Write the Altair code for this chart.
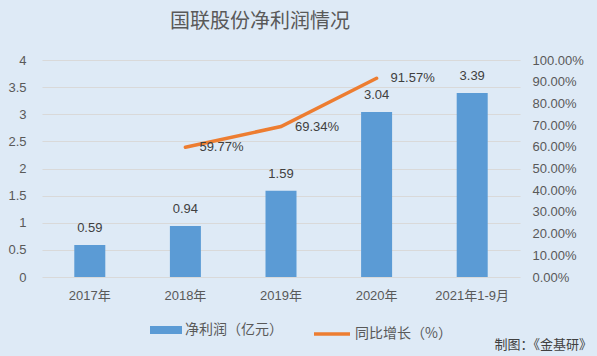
import altair as alt
import pandas as pd

years = ["2017年", "2018年", "2019年", "2020年", "2021年1-9月"]
profit = [0.59, 0.94, 1.59, 3.04, 3.39]
growth_years = ["2018年", "2019年", "2020年"]
growth = [0.5977, 0.6934, 0.9157]
growth_labels = ["59.77%", "69.34%", "91.57%"]
left_ticks = [0, 0.5, 1, 1.5, 2, 2.5, 3, 3.5, 4]
right_ticks = [0, 0.1, 0.2, 0.3, 0.4, 0.5, 0.6, 0.7, 0.8, 0.9, 1.0]

FONT = "Liberation Sans, Noto Sans CJK SC"
CJK = "Noto Sans CJK SC"
TXT = "#595959"
BLUE = "#5B9BD5"
ORANGE = "#ED7D31"
BG = "#DEEAF6"

bars_df = pd.DataFrame({"year": years, "profit": profit, "series": "净利润（亿元）"})
line_df = pd.DataFrame({"year": growth_years, "growth": growth, "label": growth_labels,
                        "series": "同比增长（%）"})

xaxis = alt.Axis(labelAngle=0, ticks=False, domain=False, grid=False,
                 labelPadding=12, labelFontSize=13, labelColor=TXT, labelFont=FONT)
xenc = alt.X("year:N", sort=years, title=None,
             scale=alt.Scale(paddingInner=0.675, paddingOuter=0.3375), axis=xaxis)

yleft = alt.Scale(domain=[0, 4])
yright = alt.Scale(domain=[0, 1])

left_axis = alt.Axis(values=left_ticks, labelExpr="datum.value + ''", ticks=False,
                     domain=False, grid=True, gridColor="#D9D9D9", labelPadding=16,
                     labelFontSize=13, labelColor=TXT, labelFont=FONT, orient="left")
right_axis = alt.Axis(values=right_ticks, format=".2%", orient="right", ticks=False,
                      domain=False, grid=False, labelPadding=12, labelFontSize=13,
                      labelColor=TXT, labelFont=FONT)

bars = alt.Chart(bars_df).mark_bar(size=31).encode(
    x=xenc,
    y=alt.Y("profit:Q", scale=yleft, title=None, axis=left_axis),
    fill=alt.Fill("series:N", scale=alt.Scale(domain=["净利润（亿元）"], range=[BLUE]),
                  legend=alt.Legend(title=None, orient="none", legendX=108, legendY=254,
                                    symbolType="M-1,-0.25H1V0.25H-1Z", symbolSize=1024,
                                    symbolStrokeWidth=0, labelFontSize=14, labelColor=TXT,
                                    labelFont=CJK, labelOffset=3, padding=0)),
)
bar_text = alt.Chart(bars_df).mark_text(dy=-17, fontSize=13, color="#404040", font=FONT).encode(
    x=alt.X("year:N", sort=years, title=None, axis=xaxis),
    y=alt.Y("profit:Q", scale=yleft, title=None, axis=left_axis),
    text=alt.Text("profit:Q", format=".2f"),
)
credit = alt.Chart(pd.DataFrame({"t": ["制图：《金基研》"]})).mark_text(
    align="right", baseline="middle", fontSize=13, color="#404040", font=CJK
).encode(x=alt.value(550), y=alt.value(285), text="t:N")

left = alt.layer(bars, bar_text, credit)

line = alt.Chart(line_df).mark_line(strokeWidth=3.5, strokeCap="round").encode(
    x=alt.X("year:N", sort=years, title=None, axis=xaxis),
    y=alt.Y("growth:Q", scale=yright, title=None, axis=right_axis),
    stroke=alt.Stroke("series:N", scale=alt.Scale(domain=["同比增长（%）"], range=[ORANGE]),
                      legend=alt.Legend(title=None, orient="none", legendX=270, legendY=254,
                                        symbolType="stroke", symbolSize=1296,
                                        symbolStrokeWidth=3.5, labelFontSize=14,
                                        labelColor=TXT, labelFont=CJK, labelOffset=3,
                                        padding=0)),
)
line_text = alt.Chart(line_df).mark_text(align="left", dx=14, fontSize=13, color="#404040",
                                         font=FONT).encode(
    x=alt.X("year:N", sort=years, title=None, axis=xaxis),
    y=alt.Y("growth:Q", scale=yright, title=None, axis=right_axis),
    text="label:N",
)
right = alt.layer(line, line_text)

chart = alt.layer(left, right).resolve_scale(
    y="independent", fill="independent", stroke="independent"
).properties(
    width=478, height=217,
    padding={"left": 42, "top": 60, "right": 77, "bottom": 79},
    autosize=alt.AutoSizeParams(type="none"),
    background=BG,
    view=alt.ViewBackground(stroke="transparent", strokeOpacity=0),
    title=alt.TitleParams("国联股份净利润情况", fontSize=20, color=TXT, font=CJK,
                          fontWeight="normal", anchor="start", frame="group", dx=128,
                          offset=22),
).configure_view(stroke="transparent", strokeOpacity=0).configure_axis(domain=False, domainWidth=0)

chart.save("out.html", embed_options={"renderer": "svg", "actions": False})
